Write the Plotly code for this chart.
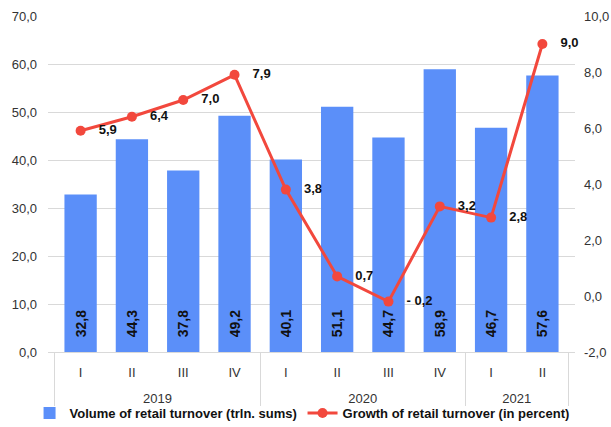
import plotly.graph_objects as go

# Quarterly retail turnover, 2019 – 2021 (H1)
years = ["2019", "2019", "2019", "2019", "2020", "2020", "2020", "2020", "2021", "2021"]
quarters = ["I", "II", "III", "IV", "I", "II", "III", "IV", "I", "II"]
volume = [32.8, 44.3, 37.8, 49.2, 40.1, 51.1, 44.7, 58.9, 46.7, 57.6]
growth = [5.9, 6.4, 7.0, 7.9, 3.8, 0.7, -0.2, 3.2, 2.8, 9.0]

left_ticks = [0, 10, 20, 30, 40, 50, 60, 70]
right_ticks = [-2, 0, 2, 4, 6, 8, 10]


def fmt(v, sep=""):
    s = f"{abs(v):.1f}".replace(".", ",")
    return ("-" + sep + s) if v < 0 else s


bar_color = "#5B8FF9"
line_color = "#F2483D"
font_family = "Liberation Sans, Arial, sans-serif"
label_font = dict(family=font_family, size=13, color="#111111", weight="bold")
tick_font = dict(family=font_family, size=13, color="#333333")

# year row sits one line lower than the quarter row
year_labels = ["<br>" + y for y in years]

fig = go.Figure()

fig.add_trace(go.Bar(
    x=[year_labels, quarters],
    y=volume,
    name="Volume of retail turnover (trln. sums)",
    marker=dict(color=bar_color, line=dict(width=0)),
    text=["\u00a0\u00a0\u00a0" + fmt(v) for v in volume],
    textposition="inside",
    insidetextanchor="start",
    textangle=-90,
    textfont=dict(label_font, size=14),
    cliponaxis=False,
    legend="legend",
))

fig.add_trace(go.Scatter(
    x=[year_labels, quarters],
    y=growth,
    yaxis="y2",
    name="Growth of retail turnover (in percent)",
    mode="lines+markers+text",
    line=dict(color=line_color, width=3),
    marker=dict(color=line_color, size=10),
    text=["\u00a0\u00a0\u00a0" + fmt(v, " ") for v in growth],
    textposition="middle right",
    textfont=label_font,
    cliponaxis=False,
    legend="legend2",
))

legend_common = dict(
    orientation="h",
    y=-0.137, yanchor="top",
    font=label_font,
    itemwidth=30,
    bgcolor="rgba(0,0,0,0)",
)

fig.update_layout(
    width=611,
    height=427,
    margin=dict(l=48, r=36, t=16, b=75, autoexpand=False),
    paper_bgcolor="white",
    plot_bgcolor="white",
    font=dict(family=font_family, size=13, color="#333333"),
    bargap=0.37,
    showlegend=True,
    legend=dict(legend_common, x=-0.035, xanchor="left"),
    legend2=dict(legend_common, x=0.483, xanchor="left"),
    xaxis=dict(
        type="multicategory",
        automargin=False,
        showgrid=False,
        showline=True,
        linecolor="#d9d9d9",
        linewidth=1,
        showdividers=True,
        dividercolor="#d9d9d9",
        dividerwidth=1,
        tickfont=tick_font,
        ticks="",
        ticklabelstandoff=8,
    ),
    yaxis=dict(
        range=[0, 70],
        tickvals=left_ticks,
        ticktext=[fmt(v) for v in left_ticks],
        automargin=False,
        showgrid=True,
        gridcolor="#d9d9d9",
        gridwidth=1,
        zeroline=False,
        tickfont=tick_font,
        ticks="",
        ticklabelstandoff=10,
    ),
    yaxis2=dict(
        range=[-2, 10],
        tickvals=right_ticks,
        ticktext=[fmt(v) for v in right_ticks],
        overlaying="y",
        side="right",
        automargin=False,
        showgrid=False,
        zeroline=False,
        tickfont=tick_font,
        ticks="",
        ticklabelstandoff=8,
    ),
    separators=",.",
)

fig.write_html("out.html")
